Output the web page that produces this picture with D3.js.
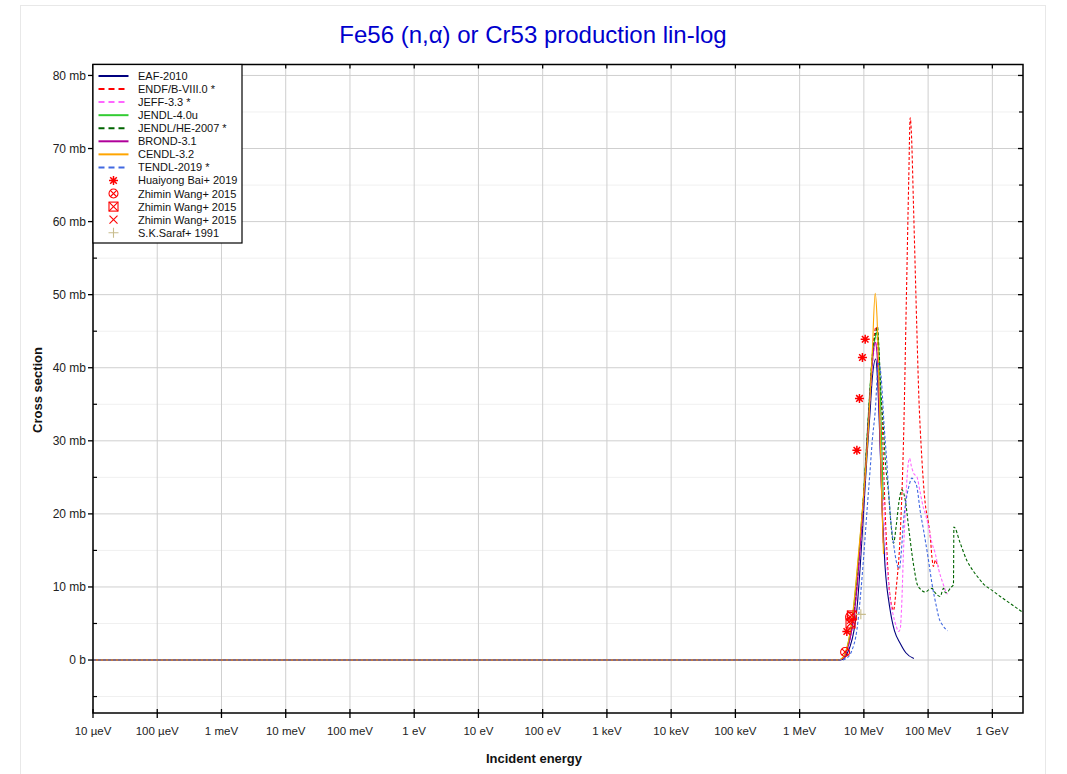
<!DOCTYPE html>
<html><head><meta charset="utf-8">
<script src="https://cdn.jsdelivr.net/npm/d3@7"></script>
<style>
body{margin:0;background:#fff;}
svg text{font-family:"Liberation Sans",Arial,Helvetica,sans-serif;}
</style>
</head><body>
<svg id="chart" width="1067" height="774"></svg>
<script>
// ---- tick labels ----
const xTickValues = [1e-5,1e-4,1e-3,1e-2,1e-1,1,10,100,1e3,1e4,1e5,1e6,1e7,1e8,1e9]; // eV
const xTickLabels = ["10 µeV","100 µeV","1 meV","10 meV","100 meV","1 eV","10 eV","100 eV","1 keV","10 keV","100 keV","1 MeV","10 MeV","100 MeV","1 GeV"];
const yTickValues = [0,10,20,30,40,50,60,70,80]; // mb
const yTickLabels = ["0 b","10 mb","20 mb","30 mb","40 mb","50 mb","60 mb","70 mb","80 mb"];

// ---- evaluated data: [energy MeV, cross section mb] ----
const eaf2010 = [[1e-11,0],[4.3,0],[5.0,0.3],[5.5,0.9],[6.12,1.9],[7.0,4],[7.8,7],[8.8,13],[9.86,20],[11.1,27.5],[12.5,34],[13.5,38.5],[15.3,41.2],[16.3,38.5],[17.9,29.2],[19.1,21.5],[20.2,16.9],[21.5,12.5],[22.8,10],[24.2,8.3],[27.3,5.5],[30,4],[36.7,2.3],[45,1.0],[60,0.2]];
const endf8 = [[1e-11,0],[4.0,0],[4.8,0.3],[5.5,1.5],[6.12,3],[7.0,6],[8.0,11],[9.0,17],[10,23],[11.1,29.5],[12.5,37],[13.5,41.5],[15.5,45.6],[16.5,43],[17.9,37],[19.1,33.8],[20.2,27],[21.5,20],[22.8,15],[24.2,10.9],[26,8.3],[28.9,6.8],[32,10],[36.7,17],[41.4,30],[46,50],[50,66],[52.6,74.2],[55,72],[59.3,62],[66.9,45],[70.8,37.5],[80,27.5],[90,21.5],[100,19],[108,16.9],[115,14],[121,12.8],[130,13.7],[137,13.2],[145,12.8]];
const jeff33 = [[1e-11,0],[4.0,0],[4.8,0.3],[5.5,1.4],[6.12,2.8],[7.0,5.8],[8.0,10.5],[9.0,16.5],[10,22.5],[11.1,29],[12.5,36],[13.5,40],[15.3,43.5],[16.5,41],[17.9,34],[19.1,28],[20.2,22],[21.5,17],[22.8,13],[24.2,10.5],[26,8],[28.9,6],[32,4.6],[34.6,3.9],[36.7,4.2],[39,8],[41.4,15],[44,20],[47,25],[51.3,27.6],[55,26.5],[60,25.5],[66.9,25.1],[75,23],[84.8,20.8],[90,20.1],[100,18.5],[115,16],[129,14.6],[145,12.5],[170,10.5],[196,9.1],[200,9]];
const jendl40u = [[1e-11,0],[4.0,0],[4.8,0.4],[5.3,1.3],[6.12,3.8],[6.74,6.3],[7.59,10.5],[8.24,14],[9,18],[9.86,22.5],[11.1,30],[12.5,37.5],[13.5,41.5],[15.5,44.5],[16.3,45],[17.2,42],[18.5,33],[20,22]];
const jendlhe2007 = [[1e-11,0],[4.0,0],[4.8,0.35],[5.5,1.6],[6.12,3.3],[7.0,6.5],[8.0,11.5],[9.0,17.5],[10,23],[11.1,29.5],[12.5,37],[13.5,41.5],[15.5,45],[16.3,45.6],[17.3,42],[18.5,36.5],[20.2,31.7],[21.5,27.4],[24.2,22.9],[26.5,18.5],[28.9,16],[32,18.5],[35,21.5],[39.1,23.3],[44,21.9],[50,18],[55.9,14.6],[62,12],[66.9,10.5],[78,9.6],[90,9.3],[102,9.6],[114.6,9.8],[129,9.2],[154,8.7],[173.6,9.8],[186,9.2],[200.5,9.3],[225,9.9],[248,10.3],[252,18.2],[316,16],[402,13.6],[453,12.8],[600,11.3],[730,10.4],[1000,9.5],[1327,8.7],[2000,7.6],[3000,6.5]];
const brond31 = [[1e-11,0],[4.0,0],[4.8,0.3],[5.5,1.4],[6.12,3],[7.0,6],[8.0,11],[9.0,17],[10,22.5],[11.1,29],[12.5,36.5],[13.5,40.5],[15,43.5],[16,42],[17.5,33],[19,22],[20,16]];
const cendl32 = [[1e-11,0],[4.0,0],[4.8,0.4],[5.3,1.3],[6.12,3.8],[6.74,6.5],[7.59,11],[8.24,14.5],[9.86,22.3],[11.8,31.9],[13.5,42],[15,50.2],[16,47],[17.5,35],[19,22],[20.2,14.5]];
const tendl2019 = [[1e-11,0],[4.5,0],[5.5,0.3],[6.5,1.3],[7.78,4.1],[9,9.5],[10,14.5],[11.1,20],[12.5,26],[13.5,30],[15,34],[16.9,40.6],[18.2,39.5],[19.5,36],[20.2,33.5],[22.8,27],[25.7,20],[28.9,16],[32,13.5],[35.8,12.5],[38,14.5],[41.4,19],[46.7,22.5],[51,24],[55.9,24.9],[60,24.6],[66.9,23.7],[75,20.5],[84.8,17.8],[100,14],[114.6,10.5],[137,7],[145,6],[170,4.7],[200,4]];

// ---- experimental data: [energy MeV, cross section mb] ----
const baiPts = [[5.43,3.9],[7.78,28.7],[8.54,35.8],[9.5,41.4],[10.48,43.9]];
const wangCirclePts = [[5.1,1.1],[6.1,5.9]];
const wangBoxPts = [[6.2,5.0],[6.5,6.1]];
const wangCrossPts = [[6.3,5.5]];
const sarafPts = [[8.97,6.25]];

const seriesNames = ["EAF-2010","ENDF/B-VIII.0 *","JEFF-3.3 *","JENDL-4.0u","JENDL/HE-2007 *","BROND-3.1","CENDL-3.2","TENDL-2019 *"];
const seriesData = [eaf2010,endf8,jeff33,jendl40u,jendlhe2007,brond31,cendl32,tendl2019];
const seriesColors = ["#00007f","#ff0000","#ff66ff","#33cc33","#006400","#b0009a","#ffa500","#4169e1"];
const seriesDashed = [false,true,true,false,true,false,false,true];
const expNames = ["Huaiyong Bai+ 2019","Zhimin Wang+ 2015","Zhimin Wang+ 2015","Zhimin Wang+ 2015","S.K.Saraf+ 1991"];
const expData = [baiPts,wangCirclePts,wangBoxPts,wangCrossPts,sarafPts];
const expShapes = ["asterisk","circlex","boxx","cross","plus"];
const expColors = ["#ff0000","#ff0000","#ff0000","#ff0000","#c8bc8c"];

const svg = d3.select("#chart");
const L=93, R=1023, T=64.5, B=713;
const x = d3.scaleLog().domain([1e-5,3e9]).range([L,R]);
const y = d3.scaleLinear().domain([-7.25,81.5]).range([B,T]);

// outer frame
svg.append("rect").attr("x",20.5).attr("y",5.5).attr("width",1025).attr("height",790)
  .attr("fill","none").attr("stroke","#e8e8e8");

// title
svg.append("text").attr("x",533).attr("y",43).attr("text-anchor","middle")
  .attr("font-size",24).attr("fill","#0000cd").text("Fe56 (n,α) or Cr53 production lin-log");

// grid
const g = svg.append("g");
const minorY = d3.range(-5,81,10);
g.selectAll(".gmy").data(minorY).enter().append("line")
  .attr("x1",L).attr("x2",R).attr("y1",d=>y(d)).attr("y2",d=>y(d))
  .attr("stroke","#f0f0f0").attr("stroke-width",1);
g.selectAll(".gy").data(yTickValues).enter().append("line")
  .attr("x1",L).attr("x2",R).attr("y1",d=>y(d)).attr("y2",d=>y(d))
  .attr("stroke","#cfcfcf").attr("stroke-width",1);
g.selectAll(".gx").data(xTickValues).enter().append("line")
  .attr("x1",d=>x(d)).attr("x2",d=>x(d)).attr("y1",T).attr("y2",B)
  .attr("stroke","#cfcfcf").attr("stroke-width",1);

// clip
svg.append("clipPath").attr("id","clip").append("rect")
  .attr("x",L).attr("y",T).attr("width",R-L).attr("height",B-T);
const plot = svg.append("g").attr("clip-path","url(#clip)");

const line = d3.line().x(d=>x(d[0]*1e6)).y(d=>y(d[1])).curve(d3.curveMonotoneX);
seriesData.forEach((s,i)=>{
  plot.append("path").datum(s).attr("d",line).attr("fill","none")
    .attr("stroke",seriesColors[i]).attr("stroke-width",1.1)
    .attr("stroke-dasharray",seriesDashed[i]?"3,2":null);
});

function marker(sel,shape,color,cx,cy){
  const gg = sel.append("g").attr("transform",`translate(${cx},${cy})`)
    .attr("stroke",color).attr("fill","none").attr("stroke-width",1.1);
  if(shape==="asterisk"){
    gg.attr("stroke-width",1.5);
    gg.append("path").attr("d","M-4.5,0H4.5M0,-4.5V4.5M-3.3,-3.3L3.3,3.3M-3.3,3.3L3.3,-3.3");
  } else if(shape==="circlex"){
    gg.append("circle").attr("r",4.5);
    gg.append("path").attr("d","M-3.2,-3.2L3.2,3.2M-3.2,3.2L3.2,-3.2");
  } else if(shape==="boxx"){
    gg.append("rect").attr("x",-4.5).attr("y",-4.5).attr("width",9).attr("height",9);
    gg.append("path").attr("d","M-4.5,-4.5L4.5,4.5M-4.5,4.5L4.5,-4.5");
  } else if(shape==="cross"){
    gg.append("path").attr("d","M-4,-4L4,4M-4,4L4,-4");
  } else {
    gg.append("path").attr("d","M-5,0H5M0,-5V5");
  }
}
expData.forEach((pts,i)=>{
  pts.forEach(p=>marker(plot,expShapes[i],expColors[i],x(p[0]*1e6),y(p[1])));
});

// axes frame
svg.append("rect").attr("x",L).attr("y",T).attr("width",R-L).attr("height",B-T)
  .attr("fill","none").attr("stroke","#000").attr("stroke-width",1.5);

// x ticks (bottom both sides, top inward)
const ax = svg.append("g");
xTickValues.forEach((v,i)=>{
  const px = x(v);
  ax.append("line").attr("x1",px).attr("x2",px).attr("y1",B-4).attr("y2",B+5).attr("stroke","#000").attr("stroke-width",1.3);
  ax.append("line").attr("x1",px).attr("x2",px).attr("y1",T).attr("y2",T+4).attr("stroke","#000").attr("stroke-width",1.3);
  ax.append("text").attr("x",px).attr("y",735).attr("text-anchor","middle").attr("font-size",11.5).attr("fill","#222").text(xTickLabels[i]);
});
// y ticks
yTickValues.forEach((v,i)=>{
  const py = y(v);
  ax.append("line").attr("x1",L-5).attr("x2",L).attr("y1",py).attr("y2",py).attr("stroke","#000").attr("stroke-width",1.3);
  ax.append("line").attr("x1",R-5).attr("x2",R).attr("y1",py).attr("y2",py).attr("stroke","#000").attr("stroke-width",1.3);
  ax.append("text").attr("x",86).attr("y",py+4.2).attr("text-anchor","end").attr("font-size",12).attr("fill","#222").text(yTickLabels[i]);
});
minorY.forEach(v=>{
  const py = y(v);
  ax.append("line").attr("x1",L).attr("x2",L+4).attr("y1",py).attr("y2",py).attr("stroke","#000").attr("stroke-width",1.2);
  ax.append("line").attr("x1",R-4).attr("x2",R).attr("y1",py).attr("y2",py).attr("stroke","#000").attr("stroke-width",1.2);
});

// axis titles
svg.append("text").attr("transform","translate(42,390) rotate(-90)").attr("text-anchor","middle")
  .attr("font-size",13).attr("font-weight","bold").attr("fill","#111").text("Cross section");
svg.append("text").attr("x",534).attr("y",763).attr("text-anchor","middle")
  .attr("font-size",13).attr("font-weight","bold").attr("fill","#111").text("Incident energy");

// legend
const lg = svg.append("g");
lg.append("rect").attr("x",L).attr("y",T).attr("width",149).attr("height",178.5)
  .attr("fill","#fff").attr("stroke","#000").attr("stroke-width",1.2);
const ly0 = 76, ldy = 13.06;
seriesNames.forEach((n,i)=>{
  const yy = ly0 + i*ldy;
  lg.append("line").attr("x1",98.5).attr("x2",128.5).attr("y1",yy).attr("y2",yy)
    .attr("stroke",seriesColors[i]).attr("stroke-width",2)
    .attr("stroke-dasharray",seriesDashed[i]?"6,4":null);
  lg.append("text").attr("x",138).attr("y",yy+4).attr("font-size",11).attr("fill","#111").text(n);
});
expNames.forEach((n,i)=>{
  const yy = ly0 + (i+seriesNames.length)*ldy;
  marker(lg,expShapes[i],expColors[i],113.5,yy);
  lg.append("text").attr("x",138).attr("y",yy+4).attr("font-size",11).attr("fill","#111").text(n);
});
</script>
</body></html>
